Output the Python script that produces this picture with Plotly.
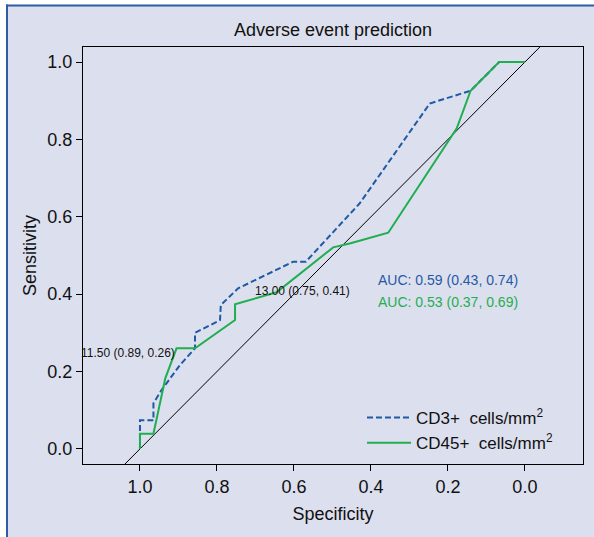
import plotly.graph_objects as go

# ---- data ----
cd3_spec = [1.0, 1.0, 0.965, 0.965, 0.944, 0.896, 0.857, 0.857, 0.792, 0.790, 0.745, 0.602, 0.569, 0.429, 0.247, 0.141, 0.067, 0.0]
cd3_sens = [0.0, 0.074, 0.074, 0.118, 0.152, 0.217, 0.260, 0.300, 0.333, 0.372, 0.415, 0.484, 0.484, 0.635, 0.893, 0.926, 1.0, 1.0]

cd45_spec = [1.0, 1.0, 0.965, 0.934, 0.905, 0.857, 0.753, 0.753, 0.645, 0.498, 0.455, 0.355, 0.177, 0.141, 0.067, 0.0]
cd45_sens = [0.0, 0.039, 0.039, 0.183, 0.260, 0.260, 0.333, 0.374, 0.405, 0.521, 0.531, 0.559, 0.829, 0.926, 1.0, 1.0]

diag_spec = [1.3, -0.3]
diag_sens = [-0.3, 1.3]

series_names = ["CD3+\u00a0 cells/mm<sup>2</sup>", "CD45+\u00a0 cells/mm<sup>2</sup>"]
auc_labels = ["AUC: 0.59 (0.43, 0.74)", "AUC: 0.53 (0.37, 0.69)"]
thr_labels = ["13.00 (0.75, 0.41)", "11.50 (0.89, 0.26)"]
tick_vals = [1.0, 0.8, 0.6, 0.4, 0.2, 0.0]
tick_text = ["1.0", "0.8", "0.6", "0.4", "0.2", "0.0"]

BLUE = "#1f5aa6"
GREEN = "#1fae50"
BG = "#dcdfed"
FONT = "Liberation Sans, Arial, sans-serif"

W, H = 594, 537
ML, MR, MT, MB = 83, 11, 47, 73

fig = go.Figure()
fig.add_trace(go.Scatter(x=diag_spec, y=diag_sens, mode="lines",
                         line=dict(color="black", width=1), showlegend=False, hoverinfo="skip"))
fig.add_trace(go.Scatter(x=cd3_spec, y=cd3_sens, mode="lines", name=series_names[0],
                         line=dict(color=BLUE, width=2, dash="6px,3px")))
fig.add_trace(go.Scatter(x=cd45_spec, y=cd45_sens, mode="lines", name=series_names[1],
                         line=dict(color=GREEN, width=2)))

# AUC labels
fig.add_annotation(x=0.387, y=0.437, text=auc_labels[0], showarrow=False, xanchor="left",
                   yanchor="middle", font=dict(family=FONT, size=14, color=BLUE))
fig.add_annotation(x=0.387, y=0.380, text=auc_labels[1], showarrow=False, xanchor="left",
                   yanchor="middle", font=dict(family=FONT, size=14, color=GREEN))
# threshold labels
fig.add_annotation(x=0.7065, y=0.408, text=thr_labels[0], showarrow=False, xanchor="left",
                   yanchor="middle", font=dict(family=FONT, size=12, color="#111"))
fig.add_annotation(x=0.904, y=0.249, text=thr_labels[1], showarrow=False, xanchor="right",
                   yanchor="middle", font=dict(family=FONT, size=12, color="#111"))

# outer frame (lavender panel with blue left/top border)
def px2paper_x(px):
    return (px - ML) / (W - ML - MR)

def px2paper_y(py):
    return (H - MB - py) / (H - MT - MB)

fig.add_shape(type="rect", xref="paper", yref="paper", layer="below",
              x0=px2paper_x(7), x1=px2paper_x(600), y0=px2paper_y(545), y1=px2paper_y(5),
              fillcolor=BG, line=dict(width=0))
fig.add_shape(type="line", xref="paper", yref="paper",
              x0=px2paper_x(7), x1=px2paper_x(7), y0=px2paper_y(545), y1=px2paper_y(4.5),
              line=dict(color="#2d5da3", width=2))
fig.add_shape(type="line", xref="paper", yref="paper",
              x0=px2paper_x(6), x1=px2paper_x(600), y0=px2paper_y(5.5), y1=px2paper_y(5.5),
              line=dict(color="#2d5da3", width=2))

fig.update_layout(
    width=W, height=H,
    margin=dict(l=ML, r=MR, t=MT, b=MB, pad=0),
    paper_bgcolor="white", plot_bgcolor="white",
    title=dict(text="Adverse event prediction", x=0.5 * (ML + W - MR) / W, xanchor="center",
               y=1 - 30 / H, yanchor="middle",
               font=dict(family=FONT, size=18, color="#111")),
    showlegend=True,
    legend=dict(x=px2paper_x(362), y=px2paper_y(400), xanchor="left", yanchor="top",
                bgcolor="rgba(0,0,0,0)", borderwidth=0,
                itemwidth=44,
                font=dict(family=FONT, size=17, color="#111")),
    xaxis=dict(range=[1.148, -0.151], tickvals=tick_vals, ticktext=tick_text,
               showgrid=False, zeroline=False, showline=True, linecolor="black", linewidth=1,
               mirror=True, ticks="outside", ticklen=6, tickcolor="black",
               tickfont=dict(family=FONT, size=18, color="#111"),
               title=dict(text="Specificity", standoff=11,
                          font=dict(family=FONT, size=18, color="#111"))),
    yaxis=dict(range=[-0.039, 1.039], tickvals=tick_vals, ticktext=tick_text,
               showgrid=False, zeroline=False, showline=True, linecolor="black", linewidth=1,
               mirror=True, ticks="outside", ticklen=6, tickcolor="black",
               tickfont=dict(family=FONT, size=18, color="#111"),
               title=dict(text="Sensitivity", standoff=6,
                          font=dict(family=FONT, size=18, color="#111"))),
)

fig.write_html("out.html")
